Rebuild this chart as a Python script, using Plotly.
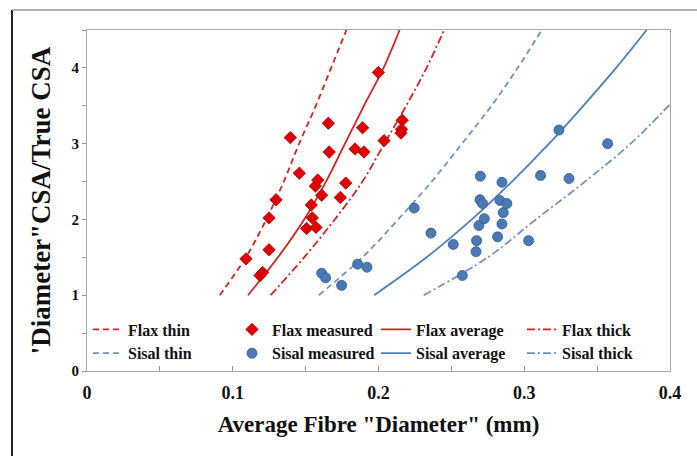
import plotly.graph_objects as go

# ---- data ----
curve_y = [1, 1.5, 2, 2.5, 3, 3.5, 4, 4.5]
flax_thin_x = [0.091, 0.109, 0.123, 0.135, 0.1455, 0.157, 0.1675, 0.178]
flax_avg_x = [0.1105, 0.131, 0.149, 0.164, 0.177, 0.190, 0.2035, 0.2145]
flax_thick_x = [0.126, 0.149, 0.170, 0.189, 0.204, 0.219, 0.233, 0.245]
sisal_thin_x = [0.159, 0.189, 0.2135, 0.2365, 0.2573, 0.2775, 0.2955, 0.312]
sisal_avg_x = [0.197, 0.233, 0.264, 0.2916, 0.317, 0.3405, 0.363, 0.384]
sisal_thick_y = [1, 1.5, 2, 2.5, 3, 3.52]
sisal_thick_x = [0.231, 0.275, 0.308, 0.3417, 0.373, 0.4]

flax_meas_x = [0.1091, 0.1187, 0.1205, 0.1249, 0.1249, 0.1297, 0.1395, 0.1457, 0.1507,
               0.1539, 0.1546, 0.1571, 0.1567, 0.1583, 0.1610, 0.1656, 0.1662, 0.1738,
               0.1775, 0.1839, 0.1891, 0.1900, 0.1999, 0.2038, 0.2163, 0.2158, 0.2154]
flax_meas_y = [1.48, 1.26, 1.30, 1.60, 2.02, 2.26, 3.08, 2.61, 1.88,
               2.19, 2.02, 1.895, 2.44, 2.52, 2.32, 3.27, 2.89, 2.29,
               2.48, 2.93, 3.21, 2.89, 3.94, 3.04, 3.31, 3.19, 3.14]

sisal_meas_x = [0.1610, 0.1637, 0.1747, 0.1857, 0.1921, 0.2245, 0.2360, 0.2513, 0.2575,
                0.2669, 0.2673, 0.2689, 0.2696, 0.2699, 0.2714, 0.2726, 0.2817, 0.2833,
                0.2847, 0.2847, 0.2856, 0.2881, 0.3030, 0.3112, 0.3238, 0.3307, 0.3572]
sisal_meas_y = [1.29, 1.23, 1.13, 1.41, 1.37, 2.15, 1.82, 1.67, 1.26,
                1.575, 1.72, 1.92, 2.26, 2.57, 2.21, 2.01, 1.77, 2.25,
                2.49, 1.94, 2.09, 2.21, 1.72, 2.58, 3.18, 2.54, 3.00]

x_tick_vals = [0, 0.1, 0.2, 0.3, 0.4]
x_tick_text = ["0", "0.1", "0.2", "0.3", "0.4"]
y_tick_vals = [0, 1, 2, 3, 4]
y_tick_text = ["0", "1", "2", "3", "4"]

FONT = "Liberation Serif"
RED = "#d42222"
BLUE = "#4f7fb8"
BLUE_LIGHT = "#6f94bf"

fig = go.Figure()

def line(x, y, name, color, dash, rank, legend):
    fig.add_trace(go.Scatter(x=x, y=y, mode="lines", name=name, line_shape="spline",
                             line=dict(color=color, width=1.8, dash=dash),
                             legendrank=rank, legend=legend))

line(flax_thin_x, curve_y, "Flax thin", RED, "6px,4px", 1, "legend")
line(sisal_thin_x, curve_y, "Sisal thin", BLUE_LIGHT, "6px,4px", 2, "legend")
line(flax_avg_x, curve_y, "Flax average", RED, "solid", 1, "legend3")
line(sisal_avg_x, curve_y, "Sisal average", BLUE, "solid", 2, "legend3")
line(flax_thick_x, curve_y, "Flax thick", RED, "8px,3px,2px,3px", 1, "legend4")
line(sisal_thick_x, sisal_thick_y, "Sisal thick", BLUE_LIGHT, "8px,3px,2px,3px", 2, "legend4")

fig.add_trace(go.Scatter(x=flax_meas_x, y=flax_meas_y, mode="markers", name="Flax measured",
                         marker=dict(symbol="diamond", size=9.5, color="#e00000",
                                     line=dict(color="#a00000", width=0.8)),
                         legendrank=1, legend="legend2"))
fig.add_trace(go.Scatter(x=sisal_meas_x, y=sisal_meas_y, mode="markers", name="Sisal measured",
                         marker=dict(symbol="circle", size=10, color="#4a7ab5",
                                     line=dict(color="#2f5a8a", width=0.8)),
                         legendrank=2, legend="legend2"))

L, R, T, B = 87, 27, 30, 85
W, H = 697, 456
pw, ph = W - L - R, H - T - B

def px(xp):
    return (xp - L) / pw

def py(yp):
    return (H - B - yp) / ph

leg_common = dict(orientation="v", xanchor="left", yanchor="middle",
                  bgcolor="rgba(0,0,0,0)", itemwidth=30, traceorder="normal",
                  font=dict(family=FONT, size=16, color="#111", weight="bold"),
                  y=py(341.5))

fig.update_layout(
    width=W, height=H,
    margin=dict(l=L, r=R, t=T, b=B),
    paper_bgcolor="white", plot_bgcolor="white",
    font=dict(family=FONT, size=16, color="#111"),
    legend=dict(x=px(88), **leg_common),
    legend2=dict(x=px(232), **leg_common),
    legend3=dict(x=px(376), **leg_common),
    legend4=dict(x=px(522), **leg_common),
    xaxis=dict(range=[0, 0.4], tickvals=x_tick_vals, ticktext=x_tick_text,
               ticks="inside", ticklen=5, tickcolor="#999", ticklabelstandoff=5,
               minor=dict(dtick=0.05, ticks="inside", ticklen=5, tickcolor="#999"),
               showgrid=False, zeroline=False, showline=True, linecolor="#aaa",
               linewidth=1.2, mirror=True,
               tickfont=dict(family=FONT, size=18, color="#111", weight="bold"),
               title=dict(text='Average Fibre "Diameter" (mm)',
                          font=dict(family=FONT, size=23, color="#111", weight="bold"),
                          standoff=14)),
    yaxis=dict(range=[0, 4.5], tickvals=y_tick_vals, ticktext=y_tick_text,
               ticks="outside", ticklen=4, tickcolor="#999",
               minor=dict(dtick=0.5, ticks="outside", ticklen=4, tickcolor="#999"),
               showgrid=False, zeroline=False, showline=True, linecolor="#aaa",
               linewidth=1.2, mirror=True,
               tickfont=dict(family=FONT, size=15, color="#111", weight="bold"),
               title=dict(text="'Diameter\"CSA/True CSA",
                          font=dict(family=FONT, size=27, color="#111", weight="bold"),
                          standoff=12)),
)

# outer frame of the original figure
fig.add_shape(type="line", xref="paper", yref="paper",
              x0=px(12), x1=px(12), y0=py(10), y1=py(470),
              line=dict(color="#222", width=2))
fig.add_shape(type="line", xref="paper", yref="paper",
              x0=px(12), x1=px(710), y0=py(10), y1=py(10),
              line=dict(color="#999", width=1.5))

fig.write_html("out.html")
